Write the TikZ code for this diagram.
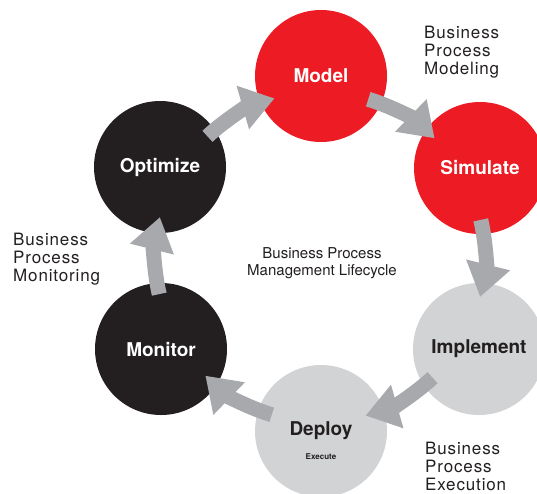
\documentclass[tikz,border=0pt]{standalone}
\usepackage{fontspec}
\setmainfont{TeX Gyre Heros}
\newfontfamily\notefont[LetterSpace=5]{TeX Gyre Heros}
\usetikzlibrary{arrows.meta}
\definecolor{bpred}{HTML}{ED1C24}
\definecolor{bpblack}{HTML}{231F20}
\definecolor{bpgray}{HTML}{D1D3D4}
\definecolor{bparrow}{HTML}{A7A9AC}
\begin{document}
\begin{tikzpicture}[x=1pt,y=1pt,
  stage/.style={circle, minimum size=132pt, inner sep=0pt, font=\fontsize{19}{21}\selectfont\bfseries},
  redstage/.style={stage, fill=bpred, text=white},
  darkstage/.style={stage, fill=bpblack, text=white},
  lightstage/.style={stage, fill=bpgray, text=bpblack},
  flow/.style={draw=bparrow, fill=bparrow, line width=15pt, -{Triangle[width=43pt,length=33pt]}},
  note/.style={align=left, anchor=north west, inner sep=0pt, text=bpblack, font=\notefont\fontsize{17}{18}\selectfont},
]
\useasboundingbox (0,-493) rectangle (537,0);
\clip (0,-493) rectangle (537,0);
\fill[white] (0,-493) rectangle (537,0);

\coordinate (hub) at (320,-257);

\node[redstage]   (model)     at (321,-76)  {Model};
\node[redstage]   (simulate)  at (480,-168) {Simulate};
\node[lightstage] (implement) at (479,-349) {Implement};
\node[lightstage] (deploy)    at (321,-431) {Deploy};
\node[darkstage]  (monitor)   at (161,-349) {Monitor};
\node[darkstage]  (optimize)  at (160,-167) {Optimize};

\node[font=\fontsize{8}{9}\selectfont\bfseries, text=bpblack, inner sep=0pt] (execute) at (321,-457) {Execute};

\foreach \s/\n in {90/1, 30/2, -30/3, -90/4, -150/5, 150/6} {
  \pgfmathsetmacro{\sa}{\s-17}
  \pgfmathsetmacro{\ea}{\s-44}
  \path (hub) ++(\sa:165) coordinate (s\n);
  \draw[flow] (s\n) arc[start angle=\sa, end angle=\ea, radius=165];
}

\node[note] (modeling) at (424,-26) {Business\\Process\\Modeling};
\node[note] (monitoring) at (13,-233) {Business\\Process\\Monitoring};
\node[note] (execution) at (425,-442) {Business\\Process\\Execution};
\node[align=center, inner sep=0pt, text=bpblack, font=\fontsize{15}{16.5}\selectfont] (lifecycle) at (322,-263) {Business Process\\Management Lifecycle};
\end{tikzpicture}
\end{document}
